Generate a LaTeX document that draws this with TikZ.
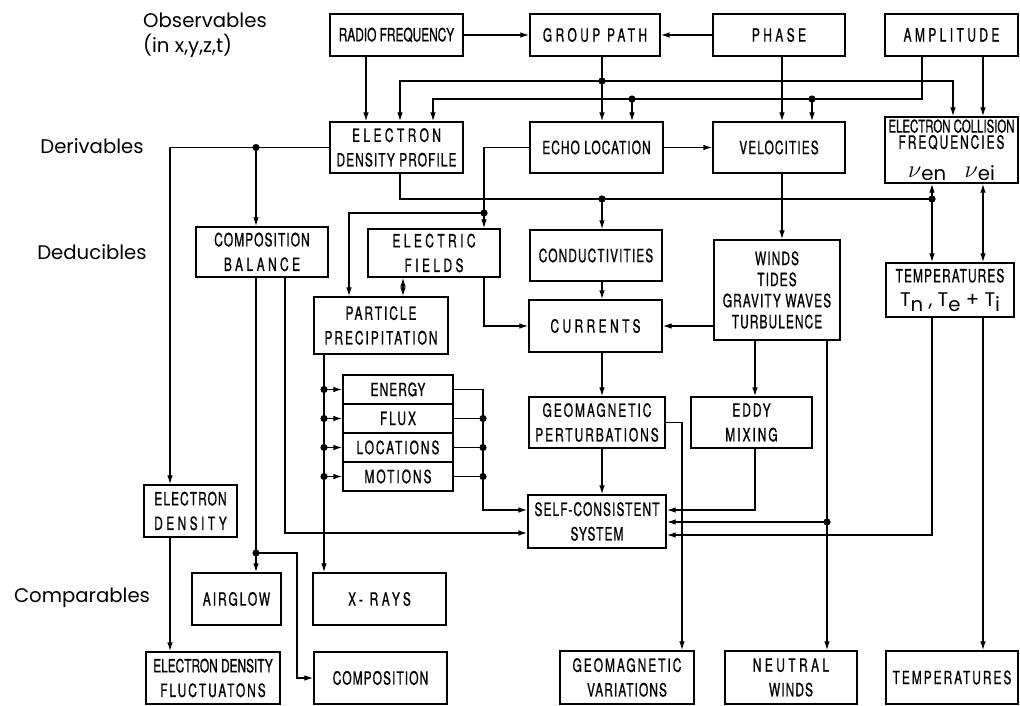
\documentclass[tikz,border=0pt]{standalone}
\usepackage{fontspec}
\usetikzlibrary{arrows.meta}
\newfontfamily\boxfont[FakeStretch=0.65,FakeBold=0.8]{TeX Gyre Heros}
\newfontfamily\midfont[FakeStretch=0.65,FakeBold=0.8,LetterSpace=6]{TeX Gyre Heros}
\newfontfamily\widefont[FakeStretch=0.65,FakeBold=0.8,LetterSpace=11]{TeX Gyre Heros}
\newfontfamily\xwidefont[FakeStretch=0.65,FakeBold=0.8,LetterSpace=19]{TeX Gyre Heros}
\newfontfamily\stagefont{Poppins}
\newdimen\unitpx
\unitpx=0.025cm

\begin{document}
\begin{tikzpicture}[x=0.025cm, y=-0.025cm, line width=0.9pt,
    >={Latex[length=2.2mm,width=1.4mm]},
    box/.style={draw, line width=1.2pt, align=center, inner sep=1pt,
      font=\widefont\fontsize{13}{17.5}\selectfont},
    tight/.style={font=\boxfont\fontsize{13}{17.5}\selectfont},
    mid/.style={font=\midfont\fontsize{13}{17.5}\selectfont},
    xwide/.style={font=\xwidefont\fontsize{13}{17.5}\selectfont},
    dims/.style 2 args={minimum width=#1\unitpx, minimum height=#2\unitpx},
    stage/.style={align=left, font=\stagefont\fontsize{14}{18}\selectfont}]
    \useasboundingbox (0,0) rectangle (1020,705);

    % Row labels
    \node[stage] (OBS) at (205,35) {Observables\\(in x,y,z,t)};
    \node[stage] (DER) at (92,146) {Derivables};
    \node[stage] (DED) at (92,252) {Deducibles};
    \node[stage] (COM) at (82,598) {Comparables};

    % Observables
    \node[box, tight, dims={133}{42}] (RF) at (396.5,35) {RADIO FREQUENCY};
    \node[box, xwide, dims={130}{42}] (GP) at (595,35) {GROUP PATH};
    \node[box, xwide, dims={132}{42}] (PH) at (779,35) {PHASE};
    \node[box, xwide, dims={133}{42}] (AM) at (951.5,35) {AMPLITUDE};

    % Derivables
    \node[box, dims={133}{51}] (EDP) at (396.5,147.5) {{\xwidefont ELECTRON}\\{\midfont DENSITY PROFILE}};
    \node[box, mid, dims={133}{51}] (EL) at (596.5,147.5) {ECHO LOCATION};
    \node[box, mid, dims={132}{51}] (VE) at (779,147.5) {VELOCITIES};
    \node[box, dims={133}{66}, inner sep=0pt] (ECF) at (951.5,150)
      {{\boxfont\fontsize{12.5}{14}\selectfont ELECTRON COLLISION}\\[-6pt]
       FREQUENCIES\\[3pt]
       {\fontsize{19}{20}\selectfont$\nu$}{\stagefont\fontsize{14}{16}\selectfont\raisebox{-2pt}{en}}\quad
       {\fontsize{19}{20}\selectfont$\nu$}{\stagefont\fontsize{14}{16}\selectfont\raisebox{-2pt}{ei}}};

    % Deducibles
    \node[box, dims={132}{50}] (CB) at (262,252) {{\midfont COMPOSITION}\\{\xwidefont BALANCE}};
    \node[box, xwide, dims={132}{48}] (EF) at (434,253) {ELECTRIC\\FIELDS};
    \node[box, dims={134}{57}] (PP) at (381,325.5) {PARTICLE\\PRECIPITATION};
    \node[box, mid, dims={132}{51}] (CO) at (596,255.5) {CONDUCTIVITIES};
    \node[box, xwide, dims={133}{52}] (CU) at (595.5,326) {CURRENTS};
    \node[box, dims={126}{100}, font=\midfont\fontsize{13}{15}\selectfont] (WT) at (777,290)
      {WINDS\\TIDES\\GRAVITY WAVES\\TURBULENCE};
    \node[box, mid, dims={128}{54}] (TE) at (950,290)
      {TEMPERATURES\\{\stagefont\fontsize{14}{16}\selectfont T\raisebox{-3pt}{n} , T\raisebox{-3pt}{e} + T\raisebox{-3pt}{i}}};

    % Particle properties
    \node[box, mid, dims={110}{29}] (EN) at (398,389.5) {ENERGY};
    \node[box, dims={110}{29}] (FL) at (398,418.5) {FLUX};
    \node[box, dims={110}{29}] (LO) at (398,447.5) {LOCATIONS};
    \node[box, dims={110}{29}] (MO) at (398,476.5) {MOTIONS};

    % Lower boxes
    \node[box, dims={93}{52}] (ED) at (190.5,511) {{\midfont ELECTRON}\\{\xwidefont DENSITY}};
    \node[box, dims={136}{51}] (GMP) at (597,422.5) {GEOMAGNETIC\\PERTURBATIONS};
    \node[box, dims={121}{51}] (EM) at (751.5,422.5) {EDDY\\MIXING};
    \node[box, mid, dims={138}{53}] (SCS) at (597,521.5) {SELF-CONSISTENT\\SYSTEM};

    % Comparables
    \node[box, dims={89}{52}] (AG) at (236.5,599) {AIRGLOW};
    \node[box, xwide, dims={133}{52}] (XR) at (379.5,599) {X- RAYS};
    \node[box, dims={134}{52}] (EDF) at (213,678)
      {{\boxfont ELECTRON DENSITY}\\FLUCTUATONS};
    \node[box, mid, dims={133}{52}] (CMP) at (380.5,678) {COMPOSITION};
    \node[box, dims={134}{53}] (GV) at (627,677.5) {GEOMAGNETIC\\{\midfont VARIATIONS}};
    \node[box, dims={132}{53}] (NW) at (791,677.5) {{\xwidefont NEUTRAL}\\{\midfont WINDS}};
    \node[box, dims={132}{53}] (TB) at (952,677.5) {TEMPERATURES};

    % Lanes and junctions
    \coordinate (lRF) at (366,0);
    \coordinate (lEP) at (433,0);
    \coordinate (lGP) at (602,0);
    \coordinate (lGV) at (682,0);
    \coordinate (lPH) at (782,0);
    \coordinate (lAM) at (922,0);
    \coordinate (lAT) at (983,0);
    \coordinate (lED) at (170,0);
    \coordinate (lPE) at (403,0);
    \coordinate (lPP) at (324,0);
    \coordinate (lEM) at (755,0);
    \coordinate (j1) at (602,81);
    \coordinate (j1a) at (400,81);
    \coordinate (j1b) at (953,81);
    \coordinate (j2) at (632,99);
    \coordinate (j3) at (812,99);
    \coordinate (j4) at (256,147.5);
    \coordinate (j5) at (602,199);
    \coordinate (j6) at (932,199);
    \coordinate (j7) at (484,213);
    \coordinate (j7a) at (349,213);
    \coordinate (j8) at (827,522);
    \coordinate (j9) at (256,553);
    \coordinate (b1) at (755,510);
    \coordinate (b2) at (932,535);
    \coordinate (b3) at (297,553);
    \coordinate (b4) at (285,533);
    \coordinate (b5) at (483,510);

    % Observables to derivables
    \draw[->] (RF) -- (GP);
    \draw[->] (PH) -- (GP);
    \draw[->] (RF.south -| lRF) -- (EDP.north -| lRF);
    \draw[->] (GP.south -| j1) -- (EL.north -| j1);
    \draw[->] (j1) -- (j1a) -- (EDP.north -| j1a);
    \draw[->] (j1) -- (j1b) -- (ECF.north -| j1b);
    \draw[->] (AM.south -| lAM) |- (j3) -- (j2) -| (EDP.north -| lEP);
    \draw[->] (j2) -- (EL.north -| j2);
    \draw[->] (j3) -- (VE.north -| j3);
    \draw[->] (AM.south -| lAT) -- (ECF.north -| lAT);
    \draw[->] (PH.south -| lPH) -- (VE.north -| lPH);
    \draw[->] (EL) -- (VE);

    % Derivables to deducibles
    \draw[->] (EDP.west) -| (ED.north -| lED);
    \draw[->] (j4) -- (CB.north -| j4);
    \draw (EDP.south -| j1a) |- (j6);
    \draw[->] (j5) -- (CO.north -| j5);
    \draw[<->] (ECF.south -| j6) -- (TE.north -| j6);
    \draw[<->] (ECF.south -| lAT) -- (TE.north -| lAT);
    \draw[->] (EL.west) -| (EF.north -| j7);
    \draw[->] (j7) -- (j7a) -- (PP.north -| j7a);
    \draw[<->] (EF.south -| lPE) -- (PP.north -| lPE);
    \draw[->] (EF.south -| j7) |- (CU.west);
    \draw[->] (CO.south -| lGP) -- (CU.north -| lGP);
    \draw[->] (WT.west |- CU.east) -- (CU.east);
    \draw[->] (VE.south -| lPH) -- (WT.north -| lPH);

    % Deducibles downwards
    \draw[->] (CU.south -| lGP) -- (GMP.north -| lGP);
    \draw[->] (WT.south -| lEM) -- (EM.north -| lEM);
    \draw[->] (GMP.south -| lGP) -- (SCS.north -| lGP);
    \draw[->] (GMP.east) -| (GV.north -| lGV);
    \draw[->] (EM.south -| b1) -- (b1) -- (SCS.east |- b1);
    \draw[->] (WT.south -| j8) -- (NW.north -| j8);
    \draw[->] (j8) -- (SCS.east |- j8);
    \draw[->] (TE.south -| b2) -- (b2) -- (SCS.east |- b2);
    \draw[->] (TE.south -| lAT) -- (TB.north -| lAT);
    \draw[->] (ED.south -| lED) -- (EDF.north -| lED);
    \draw[->] (CB.south -| j9) -- (AG.north -| j9);
    \draw[->] (j9) -- (b3) |- (CMP.west);
    \draw[->] (CB.south -| b4) -- (b4) -- (SCS.west |- b4);

    % Particle precipitation
    \draw[->] (PP.south -| lPP) -- (XR.north -| lPP);
    \draw[->] (EN.west -| lPP) -- (EN.west);
    \draw[->] (FL.west -| lPP) -- (FL.west);
    \draw[->] (LO.west -| lPP) -- (LO.west);
    \draw[->] (MO.west -| lPP) -- (MO.west);
    \draw[->] (EN.east) -| (b5) -- (SCS.west |- b5);
    \draw (FL.east) -- (FL.east -| b5);
    \draw (LO.east) -- (LO.east -| b5);
    \draw (MO.east) -- (MO.east -| b5);

    % Junction dots
    \fill (j1) circle (0.9mm) (j2) circle (0.9mm) (j3) circle (0.9mm)
      (j4) circle (0.9mm) (j5) circle (0.9mm) (j6) circle (0.9mm)
      (j7) circle (0.9mm) (j8) circle (0.9mm) (j9) circle (0.9mm);
    \fill (EN.west -| lPP) circle (0.9mm) (FL.west -| lPP) circle (0.9mm)
      (LO.west -| lPP) circle (0.9mm) (MO.west -| lPP) circle (0.9mm);
    \fill (FL.east -| b5) circle (0.9mm) (LO.east -| b5) circle (0.9mm)
      (MO.east -| b5) circle (0.9mm);
  \end{tikzpicture}
\end{document}
